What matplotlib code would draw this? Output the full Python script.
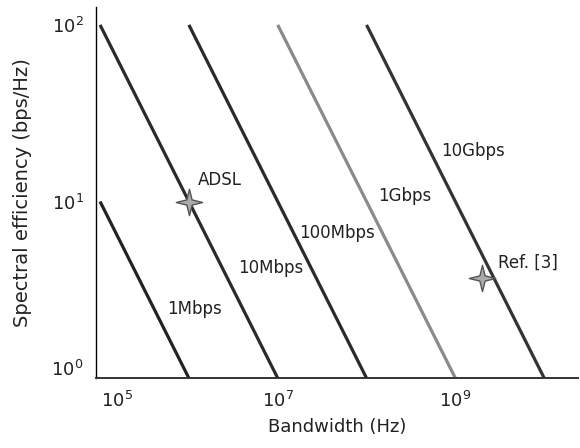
import matplotlib
matplotlib.use("Agg")

import numpy as np
import matplotlib.pyplot as plt
import matplotlib.transforms as mtransforms
from matplotlib.path import Path

# constant-rate lines: spectral efficiency = rate / bandwidth
rate_labels = ["1Mbps", "10Mbps", "100Mbps", "1Gbps", "10Gbps"]
rates = [1e6, 1e7, 1e8, 1e9, 1e10]
line_colors = ["#222222", "#2a2a2a", "#2a2a2a", "#8a8a8a", "#333333"]
label_x = [1.17e6, 8.3e6, 4.7e7, 2.7e8, 1.6e9]
label_y = [2.46, 4.2, 6.6, 10.7, 19.3]

points = ["ADSL", "Ref. [3]"]
point_x = [1.0e6, 2.0e9]
point_y = [10.0, 3.7]
point_tx = [1.26e6, 3.04e9]
point_ty = [13.2, 4.5]


def star_marker(inner=0.28):
    verts = []
    for k in range(8):
        ang = np.pi / 2 - k * np.pi / 4
        r = 1.0 if k % 2 == 0 else inner
        verts.append((r * np.cos(ang), r * np.sin(ang)))
    verts.append(verts[0])
    codes = [Path.MOVETO] + [Path.LINETO] * 7 + [Path.CLOSEPOLY]
    return Path(verts, codes)


def run():
    plt.rcParams["font.family"] = ["DejaVu Sans"]
    fig = plt.figure(figsize=(5.8, 4.48), dpi=100)
    ax = fig.add_axes([0.1655, 0.156, 0.831, 0.828])

    for r, lab, c, tx, ty in zip(rates, rate_labels, line_colors, label_x, label_y):
        span = 10.0 if r < 1e7 else 100.0
        xs = np.array([r / span, r])
        ys = r / xs
        ax.plot(xs, ys, color=c, lw=2.3, solid_capstyle="butt")
        ax.text(tx, ty, lab, fontsize=12, ha="center", va="center", color="#222222")

    star = star_marker()
    for name, x, y, tx, ty in zip(points, point_x, point_y, point_tx, point_ty):
        ax.plot([x], [y], marker=star, markersize=19, color="#ababab",
                markeredgecolor="#555555", markeredgewidth=1.0, zorder=5)
        ax.text(tx, ty, name, fontsize=12, ha="left", va="center", color="#222222")

    ax.set_xscale("log")
    ax.set_yscale("log")
    ax.set_xlim(0.9e5, 2.4e10)
    ax.set_ylim(1.0, 126)
    ax.set_xticks([1e5, 1e7, 1e9])
    ax.set_yticks([1, 10, 100])
    ax.minorticks_off()
    ax.tick_params(axis="both", length=0, labelsize=13, pad=9, colors="#222222")

    ax.spines["top"].set_visible(False)
    ax.spines["right"].set_visible(False)
    ax.spines["left"].set_linewidth(1.0)
    ax.spines["bottom"].set_linewidth(1.4)
    ax.spines["bottom"].set_color("#333333")

    ax.set_xlabel("Bandwidth (Hz)", fontsize=13, labelpad=5, color="#222222")
    ax.set_ylabel("Spectral efficiency (bps/Hz)", fontsize=14, labelpad=14, color="#222222")

    # the original figure nudges the corner tick labels away from each other
    fig.canvas.draw()
    xt = ax.xaxis.get_major_ticks()[0].label1
    xt.set_transform(xt.get_transform() + mtransforms.ScaledTranslation(0.17, 0, fig.dpi_scale_trans))
    yt = ax.yaxis.get_major_ticks()[0].label1
    yt.set_transform(yt.get_transform() + mtransforms.ScaledTranslation(0, 0.1, fig.dpi_scale_trans))

    fig.savefig("out.png", dpi=100)
    plt.close(fig)


if __name__ == "__main__":
    run()
